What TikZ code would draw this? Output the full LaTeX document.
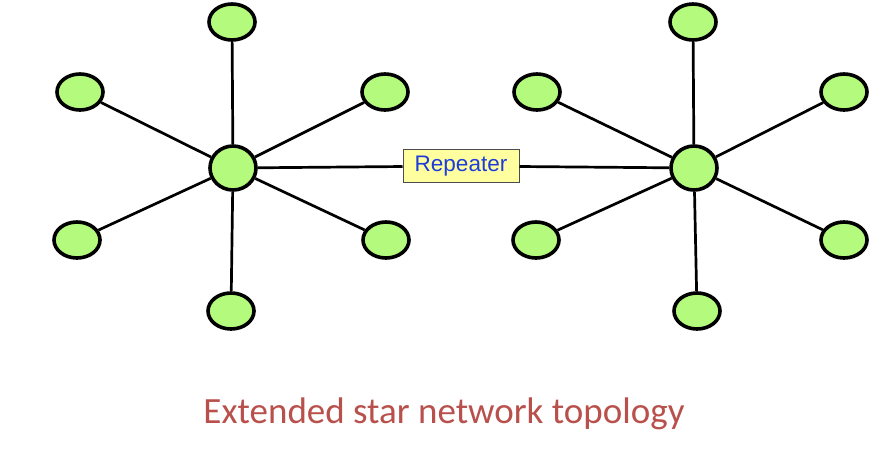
\documentclass[tikz,border=0pt]{standalone}
\usepackage{fontspec}
\setmainfont{Carlito}
\newfontfamily\arialfont{Liberation Sans}
\usetikzlibrary{shapes.geometric}
\definecolor{nodegreen}{RGB}{180,250,125}
\definecolor{repfill}{RGB}{255,255,160}
\definecolor{reptext}{RGB}{30,60,220}
\definecolor{titlered}{RGB}{184,80,76}
\tikzset{
    x=1pt, y=-1pt, % pixel-like coordinates
    pc/.style={ellipse, draw=black, line width=3.6pt, fill=nodegreen, minimum width=46pt, minimum height=36pt, inner sep=0pt}, % an end station
    hub/.style={pc, minimum width=46pt, minimum height=44pt}, % the centre of a star
    link/.style={line width=2.7pt, black}, % a cable
    repeater/.style={draw=black!70, line width=1pt, fill=repfill, text=reptext, font=\arialfont\fontsize{22.5}{26}\selectfont, minimum width=116pt, minimum height=33pt, inner sep=0pt},
    }
\begin{document}
\begin{tikzpicture}
    \useasboundingbox (0,0) rectangle (888,448);
    % left star
    \node[hub] (hubL) at (233,168) {};
    \node[pc] (l1) at (232,22) {};
    \node[pc] (l2) at (80,92) {};
    \node[pc] (l3) at (385,92) {};
    \node[pc] (l4) at (77,240) {};
    \node[pc] (l5) at (386,240) {};
    \node[pc] (l6) at (231,311) {};
    % right star
    \node[hub] (hubR) at (694,168) {};
    \node[pc] (r1) at (693,22) {};
    \node[pc] (r2) at (537,92) {};
    \node[pc] (r3) at (844,92) {};
    \node[pc] (r4) at (536,240) {};
    \node[pc] (r5) at (844,240) {};
    \node[pc] (r6) at (697,311) {};
    % repeater between the two stars
    \node[repeater] (rep) at (461,166) {Repeater};
    \draw[link] (hubL) -- (l1) (hubL) -- (l2) (hubL) -- (l3)
                (hubL) -- (l4) (hubL) -- (l5) (hubL) -- (l6);
    \draw[link] (hubR) -- (r1) (hubR) -- (r2) (hubR) -- (r3)
                (hubR) -- (r4) (hubR) -- (r5) (hubR) -- (r6);
    \draw[link] (hubL) -- (rep) (rep) -- (hubR);
    \node[text=titlered, font=\fontsize{37}{42}\selectfont] (title) at (444,414) {Extended star network topology};
\end{tikzpicture}
\end{document}
